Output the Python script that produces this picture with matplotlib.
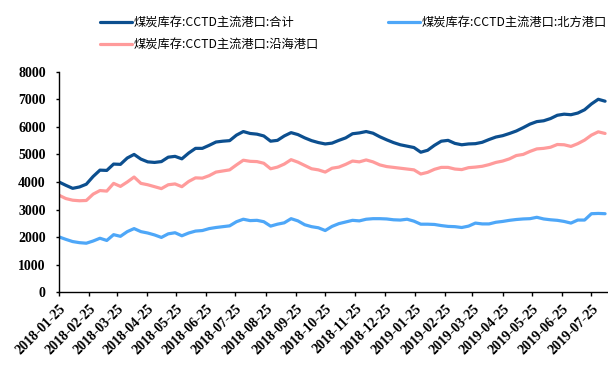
import numpy as np
import pandas as pd
import matplotlib
matplotlib.use("Agg")
import matplotlib.pyplot as plt

# Weekly coal inventory at CCTD main ports (10k tonnes)
start = "2018-01-25"
n_weeks = 81
dates = pd.date_range(start, periods=n_weeks, freq="7D")

total = [4000, 3880, 3770, 3820, 3920, 4200, 4430, 4420, 4650, 4640,
         4870, 5000, 4830, 4730, 4710, 4740, 4900, 4930, 4840, 5050,
         5220, 5220, 5330, 5450, 5480, 5500, 5700, 5830, 5760, 5735,
         5670, 5480, 5510, 5670, 5790, 5720, 5600, 5500, 5430, 5380,
         5410, 5510, 5600, 5750, 5780, 5830, 5770, 5640, 5530, 5430,
         5350, 5300, 5250, 5080, 5150, 5330, 5480, 5510, 5400, 5350,
         5380, 5390, 5440, 5540, 5630, 5680, 5760, 5850, 5970, 6100,
         6190, 6220, 6300, 6420, 6460, 6440, 6500, 6620, 6830, 7000,
         6930]

north = [2010, 1920, 1840, 1800, 1780, 1860, 1960, 1880, 2090, 2030,
         2200, 2310, 2200, 2150, 2080, 1990, 2120, 2160, 2050, 2150,
         2220, 2240, 2310, 2350, 2380, 2410, 2560, 2650, 2600, 2610,
         2560, 2400, 2470, 2520, 2670, 2590, 2450, 2380, 2340, 2240,
         2390, 2490, 2550, 2610, 2590, 2650, 2670, 2670, 2660, 2630,
         2620, 2650, 2580, 2470, 2470, 2460, 2420, 2390, 2380, 2350,
         2400, 2510, 2480, 2480, 2540, 2570, 2610, 2640, 2660, 2670,
         2720, 2660, 2630, 2610, 2570, 2510, 2620, 2620, 2850, 2860,
         2850]

coastal = [3520, 3400, 3340, 3320, 3330, 3560, 3690, 3670, 3950, 3840,
           4000, 4180, 3950, 3900, 3830, 3760, 3900, 3930, 3830, 4020,
           4150, 4140, 4230, 4360, 4400, 4440, 4620, 4790, 4750, 4740,
           4680, 4480, 4540, 4650, 4810, 4720, 4600, 4480, 4440, 4360,
           4500, 4540, 4640, 4760, 4730, 4800, 4730, 4620, 4560, 4530,
           4500, 4470, 4440, 4290, 4350, 4460, 4530, 4530, 4470, 4450,
           4520, 4540, 4570, 4630, 4710, 4760, 4840, 4960, 5000, 5110,
           5200, 5220, 5260, 5360, 5350, 5290, 5390, 5520, 5700, 5820,
           5760]

labels = ["煤炭库存:CCTD主流港口:合计",
          "煤炭库存:CCTD主流港口:北方港口",
          "煤炭库存:CCTD主流港口:沿海港口"]
colors = ["#0C4F8F", "#4EA7F8", "#FF9B9B"]

tick_dates = pd.date_range("2018-01-01", "2019-07-01", freq="MS") + pd.Timedelta(days=24)
tick_labels = [d.strftime("%Y-%m-%d") for d in tick_dates]
y_ticks = [0, 1000, 2000, 3000, 4000, 5000, 6000, 7000, 8000]

fig = plt.figure(figsize=(6.08, 3.67), dpi=100)
ax = fig.add_axes([59 / 608, 1 - 292.3 / 367, 549 / 608, (292.3 - 71.7) / 367])

h_total, = ax.plot(dates, total, color=colors[0], lw=2.3, solid_capstyle="round")
h_north, = ax.plot(dates, north, color=colors[1], lw=2.3, solid_capstyle="round")
h_coast, = ax.plot(dates, coastal, color=colors[2], lw=2.3, solid_capstyle="round")

ax.set_ylim(0, 8000)
ax.set_xlim(pd.Timestamp("2018-01-25"), pd.Timestamp("2018-01-25") + pd.Timedelta(days=563))
ax.set_yticks(y_ticks)
ax.set_yticklabels([str(v) for v in y_ticks])
ax.set_xticks(tick_dates)
ax.set_xticklabels(tick_labels, rotation=45, ha="right", va="top", rotation_mode="anchor")

for lab in ax.get_xticklabels() + ax.get_yticklabels():
    lab.set_fontfamily("Liberation Serif")
    lab.set_fontweight("bold")
    lab.set_fontsize(10)

ax.tick_params(axis="both", direction="out", width=1, color="black")
ax.tick_params(axis="y", length=2.5, pad=7)
ax.tick_params(axis="x", length=3, pad=4)
for side in ("top", "right"):
    ax.spines[side].set_visible(False)
for side in ("left", "bottom"):
    ax.spines[side].set_color("black")
    ax.spines[side].set_linewidth(1)

leg = fig.legend([h_total, h_coast, h_north], [labels[0], labels[2], labels[1]],
                 ncol=2, loc="upper left", bbox_to_anchor=(95 / 608, 1 - 11 / 367),
                 frameon=False, handlelength=2.6, handletextpad=0.15,
                 columnspacing=5.7, labelspacing=0.75, borderaxespad=0,
                 prop=dict(family=["Noto Sans CJK SC", "DejaVu Sans"], size=8.8))

fig.savefig("out.png", dpi=100)
